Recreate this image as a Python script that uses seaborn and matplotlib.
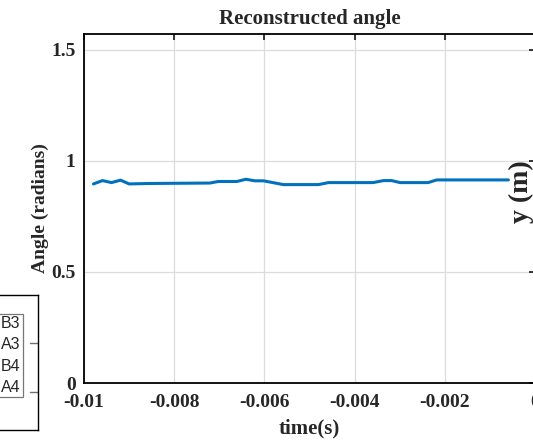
import numpy as np
import pandas as pd
import matplotlib
matplotlib.use("Agg")
import matplotlib.pyplot as plt
from matplotlib.lines import Line2D
import seaborn as sns

# reconstructed angle
time_s = [-0.00979, -0.00959, -0.00939, -0.00919, -0.00900, -0.00854, -0.00721,
          -0.00702, -0.00661, -0.00641, -0.00621, -0.00602, -0.00558, -0.00480,
          -0.00458, -0.00359, -0.00336, -0.00318, -0.00299, -0.00237, -0.00218,
          -0.00059]
angle_rad = [0.896, 0.911, 0.902, 0.913, 0.896, 0.898, 0.900,
             0.907, 0.907, 0.917, 0.910, 0.910, 0.893, 0.893,
             0.902, 0.902, 0.911, 0.911, 0.902, 0.902, 0.914,
             0.914]

xticks = [-0.01, -0.008, -0.006, -0.004, -0.002, 0]
xtick_labels = ["-0.01", "-0.008", "-0.006", "-0.004", "-0.002", "0"]
yticks = [0, 0.5, 1, 1.5]
ytick_labels = ["0", "0.5", "1", "1.5"]

# legend of the neighbouring (cropped) subplot
legend_labels = ["B3", "A3", "B4", "A4"]
legend_colors = ["#0072BD", "#D95319", "#EDB120", "#7E2F8E"]

df = pd.DataFrame({"t": time_s, "angle": angle_rad})

sns.set_style("white")
plt.rcParams["font.family"] = ["Liberation Serif", "DejaVu Serif"]
plt.rcParams["axes.unicode_minus"] = False

W, H = 533, 441
fig = plt.figure(figsize=(W / 100, H / 100), dpi=100)

# left neighbour subplot, mostly outside the crop
axl = fig.add_axes([-0.5, (H - 430) / H, 0.5 + 38 / W, (430 - 295) / H])
axl.set_xticks([])
axl.set_yticks([])
for s in axl.spines.values():
    s.set_color("black")
    s.set_linewidth(1.0)
for yy in [0.281, 0.644]:
    axl.axhline(yy, xmin=0.975, color="#707070", lw=1.0, zorder=0)
handles = [Line2D([], [], color=c, lw=1.5) for c in legend_colors]
leg = axl.legend(handles, legend_labels, loc="center right",
                 bbox_to_anchor=(23 / W, 1 - 355.5 / H), bbox_transform=fig.transFigure,
                 prop={"family": "Liberation Sans", "size": 11.5},
                 frameon=True, fancybox=False, borderpad=0.15, labelspacing=0.38,
                 handlelength=2.0, borderaxespad=0)
leg.get_frame().set_edgecolor("#555555")
leg.get_frame().set_linewidth(0.9)

# main axes
ax = fig.add_axes([84 / W, 58 / H, (535 - 84) / W, (383 - 34) / H])
sns.lineplot(data=df, x="t", y="angle", ax=ax, color="#0072BD", linewidth=2.2)

ax.set_xlim(-0.01, 0)
ax.set_ylim(0, np.pi / 2)
ax.set_xticks(xticks)
ax.set_xticklabels(xtick_labels)
ax.set_yticks(yticks)
ax.set_yticklabels(ytick_labels)
ax.grid(True, color="#dcdcdc", linewidth=0.9)
ax.set_axisbelow(True)
for s in ax.spines.values():
    s.set_color("black")
    s.set_linewidth(1.3)
ax.tick_params(direction="in", length=4, width=1.3, top=True, right=True,
               labelsize=14)
ax.tick_params(axis="x", pad=8)
ax.tick_params(axis="y", pad=6)
for lab in ax.get_xticklabels() + ax.get_yticklabels():
    lab.set_fontweight("bold")

ax.set_title("Reconstructed angle", fontsize=15, fontweight="bold", pad=7)
ax.set_xlabel("time(s)", fontsize=15, fontweight="bold", labelpad=5)
ax.set_ylabel("Angle (radians)", fontsize=14, fontweight="bold", labelpad=2)

# label of the subplot on the right, cropped
fig.text(521 / W, 1 - 192 / H, "y (m)", rotation=90, ha="center", va="center",
         fontsize=20, fontweight="bold")

fig.savefig("out.png", dpi=100)
